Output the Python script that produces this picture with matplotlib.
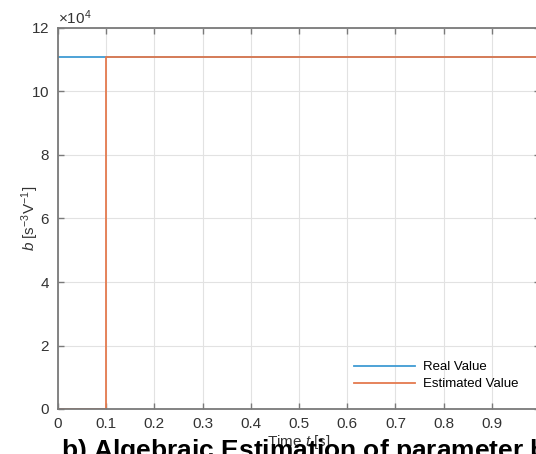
import matplotlib.pyplot as plt
from matplotlib.ticker import ScalarFormatter

plt.rcParams['font.family'] = ['Liberation Sans', 'DejaVu Sans']
plt.rcParams['mathtext.fontset'] = 'custom'
plt.rcParams['mathtext.rm'] = 'Liberation Sans'
plt.rcParams['mathtext.it'] = 'Liberation Sans:italic'
plt.rcParams['mathtext.bf'] = 'Liberation Sans:bold'

# data
real_t = [0.0, 1.0]
real_b = [111000, 111000]
est_t = [0.0, 0.1, 0.1, 1.0]
est_b = [0, 0, 111000, 111000]

x_ticks = [0, 0.1, 0.2, 0.3, 0.4, 0.5, 0.6, 0.7, 0.8, 0.9, 1.0]
x_labels = ['0', '0.1', '0.2', '0.3', '0.4', '0.5', '0.6', '0.7', '0.8', '0.9', '1']
y_ticks = [0, 20000, 40000, 60000, 80000, 100000, 120000]

W, H = 536, 454
fig = plt.figure(figsize=(W / 100, H / 100), dpi=100)
ax = fig.add_axes([58 / W, (H - 409) / H, 482 / W, 381 / H])

ax.plot(real_t, real_b, color='#3f9bd3', lw=1.3, label='Real Value')
ax.plot(est_t, est_b, color='#e47a4e', lw=1.3, label='Estimated Value')

ax.set_xlim(0, 1)
ax.set_ylim(0, 120000)
ax.set_xticks(x_ticks)
ax.set_yticks(y_ticks)
ax.set_xticklabels(x_labels)

# axis in units of 10^4 like the original
fmt = ScalarFormatter(useMathText=True)
fmt.set_powerlimits((4, 4))
ax.yaxis.set_major_formatter(fmt)
ax.yaxis.get_offset_text().set_fontsize(11)
ax.yaxis.get_offset_text().set_color('#333333')

ax.grid(True, color='#e2e2e2', lw=0.8)
ax.set_axisbelow(True)
ax.tick_params(direction='in', top=True, right=True, length=4, width=1.0,
               colors='#7a7a7a', labelsize=11, labelcolor='#333333', pad=6)
for s in ax.spines.values():
    s.set_color('#7a7a7a')
    s.set_linewidth(1.3)

ax.set_xlabel('Time $t$ [s]', fontsize=11, color='#333333', labelpad=1)
ax.set_ylabel('$b$ [s$^{-3}$V$^{-1}$]', fontsize=11, color='#333333')
ax.yaxis.set_label_coords(-0.035, 0.5)

ax.legend(loc='lower right', bbox_to_anchor=(530 / W, (H - 402) / H),
          bbox_transform=fig.transFigure, frameon=False, fontsize=9.5,
          handlelength=4.6, handletextpad=0.6, labelspacing=0.35)

fig.text(61 / W, (H - 437) / H, 'b) Algebraic Estimation of parameter $\\mathbf{b}$',
         fontsize=19, fontweight='bold', ha='left', va='top', color='black')

fig.savefig('out.png', dpi=100)
